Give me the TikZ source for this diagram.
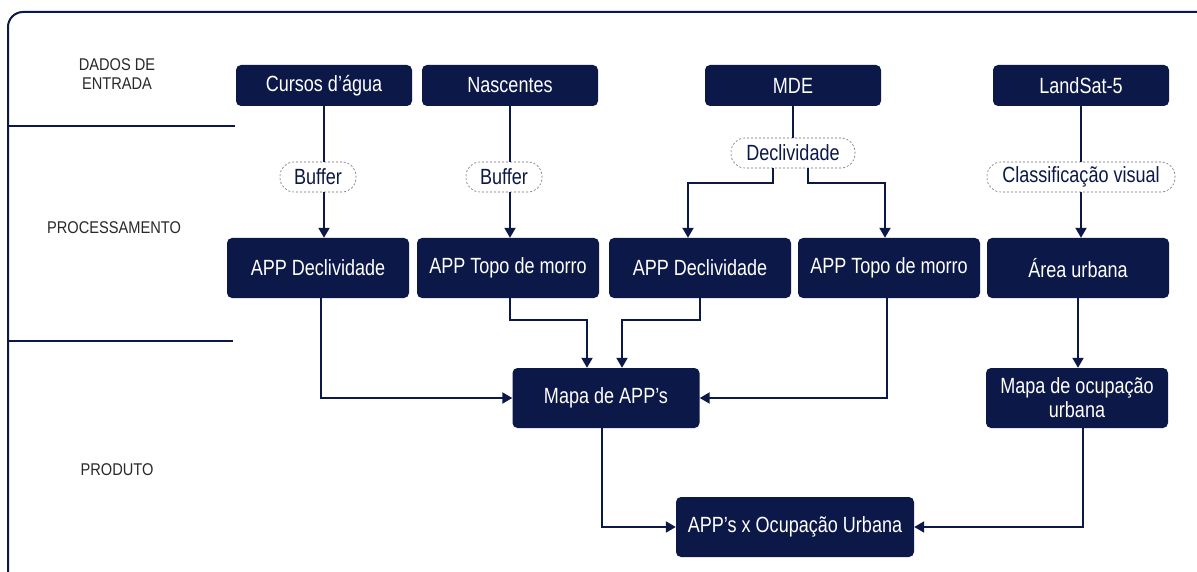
\documentclass[tikz,border=0pt]{standalone}
\usepackage{fontspec}
\setmainfont{Liberation Sans}
\newfontfamily\boxfont[FakeStretch=0.82]{Liberation Sans}
\newfontfamily\stagefont[FakeStretch=0.86]{Liberation Sans}
\usetikzlibrary{arrows.meta}
\definecolor{navy}{RGB}{12,24,72}
\definecolor{labelgray}{RGB}{40,40,45}
\definecolor{dashgray}{RGB}{110,110,120}

\begin{document}
\begin{tikzpicture}[x=1pt,y=-1pt,
  databox/.style={fill=navy, rounded corners=5pt, text=white, inner sep=0pt,
    minimum width=176pt, minimum height=41pt, align=center,
    font=\boxfont\fontsize{22}{24}\selectfont},
  procbox/.style={databox, minimum width=182pt, minimum height=60pt},
  pill/.style={draw=dashgray, dash pattern=on 2pt off 2pt, line width=0.6pt,
    fill=white, rounded corners=14pt, minimum height=30pt, inner sep=0pt,
    text=navy, font=\boxfont\fontsize{22}{24}\selectfont},
  stage/.style={text=labelgray, align=center,
    font=\stagefont\fontsize{17}{19}\selectfont},
  link/.style={draw=navy, line width=2pt},
  flow/.style={link, -{Triangle[length=10pt,width=11pt]}},
  frameline/.style={draw=navy, line width=2pt}
]
\useasboundingbox (0,0) rectangle (1197,572);
\fill[white] (0,0) rectangle (1197,572);

% outer frame and stage separators
\draw[frameline, rounded corners=15pt] (1197,12) -- (8,12) -- (8,572);
\draw[frameline, line width=1.6pt] (8,126) -- (235,126);
\draw[frameline, line width=1.6pt] (8,341) -- (233,341);

% stage labels
\node[stage] (s1) at (117,74) {DADOS DE\\ENTRADA};
\node[stage] (s2) at (114,228) {PROCESSAMENTO};
\node[stage] (s3) at (117,470) {PRODUTO};

% input data
\node[databox] (cursos) at (324,85.5) {Cursos d’água};
\node[databox] (nasc)   at (510,85.5) {Nascentes};
\node[databox] (mde)    at (793,85.5) {MDE};
\node[databox] (land)   at (1081,85.5) {LandSat-5};

% operations
\node[pill, minimum width=76pt]  (buf1)  at (318,177) {Buffer};
\node[pill, minimum width=76pt]  (buf2)  at (504,177) {Buffer};
\node[pill, minimum width=124pt] (decl)  at (793,153) {Declividade};
\node[pill, minimum width=188pt] (class) at (1081,177) {Classificação visual};

% processing results
\node[procbox] (appd1) at (318,268) {APP Declividade};
\node[procbox] (appt1) at (508,268) {APP Topo de morro};
\node[procbox] (appd2) at (700,268) {APP Declividade};
\node[procbox] (appt2) at (889,268) {APP Topo de morro};
\node[procbox] (area)  at (1078,268) {Área urbana};

% products
\node[procbox, minimum width=187pt] (mapa)   at (606,398) {Mapa de APP’s};
\node[procbox] (ocup) at (1077,398) {Mapa de ocupação\\urbana};
\node[procbox, minimum width=238pt] (final)  at (795,527) {APP’s x Ocupação Urbana};

% input -> operation -> result
\draw[link] (cursos.south) -- (cursos.south |- buf1.north);
\draw[flow] (buf1.south -| cursos.south) -- (cursos.south |- appd1.north);
\draw[link] (nasc.south) -- (nasc.south |- buf2.north);
\draw[flow] (buf2.south -| nasc.south) -- (nasc.south |- appt1.north);
\draw[link] (mde.south) -- (decl.north);
\draw[flow] ([xshift=-20pt]decl.south) -- ++(0,15) -| ([xshift=-12pt]appd2.north);
\draw[flow] ([xshift=15pt]decl.south) -- ++(0,15) -| ([xshift=-4pt]appt2.north);
\draw[link] (land.south) -- (land.south |- class.north);
\draw[flow] (class.south -| land.south) -- (land.south |- area.north);

% results -> APP map
\draw[flow] ([xshift=3pt]appd1.south) |- (mapa.west);
\draw[flow] ([xshift=2pt]appt1.south) -- ++(0,22) -| ([xshift=-19pt]mapa.north);
\draw[flow] (appd2.south) -- ++(0,22) -| ([xshift=16pt]mapa.north);
\draw[flow] ([xshift=-2pt]appt2.south) |- (mapa.east);
\draw[flow] (area.south) -- (area.south |- ocup.north);

% maps -> final overlay
\draw[flow] ([xshift=-4pt]mapa.south) |- (final.west);
\draw[flow] ([xshift=6pt]ocup.south) |- (final.east);
\end{tikzpicture}
\end{document}
